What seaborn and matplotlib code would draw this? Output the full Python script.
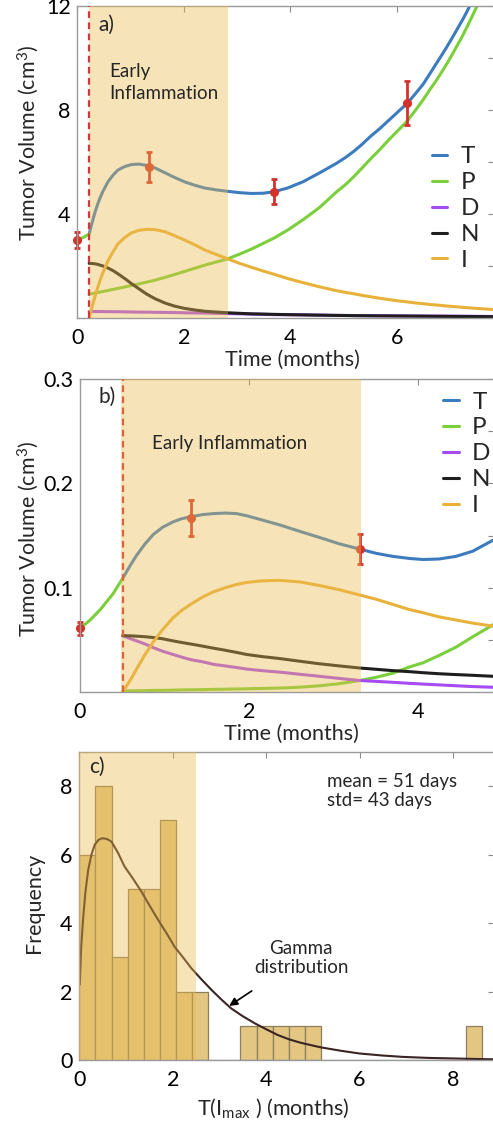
import matplotlib
matplotlib.use("Agg")
import matplotlib.pyplot as plt
from matplotlib.patches import Rectangle
import seaborn as sns

# ---------------- data ----------------
# Panel a: large tumour (cm^3), time in months
a_t_pre = [0.0, 0.11, 0.22]
a_p_pre = [3.0, 3.1, 3.23]
a_t = [0.22, 0.26, 0.3, 0.34, 0.385, 0.43, 0.48, 0.573, 0.67, 0.76, 0.88, 1.01, 1.15,
       1.3, 1.45, 1.64, 1.82, 2.01, 2.2, 2.39, 2.6, 2.83, 3.05, 3.27, 3.5, 3.7,
       3.95, 4.24, 4.55, 4.87, 5.05, 5.2, 5.35, 5.5, 5.68, 5.85, 6.02, 6.2, 6.35,
       6.5, 6.62, 6.75, 6.85, 6.95, 7.04, 7.13, 7.22, 7.3, 7.4, 7.5, 7.65, 7.8]
a_T = [3.23, 3.56, 3.86, 4.14, 4.41, 4.65, 4.88, 5.24, 5.5, 5.69, 5.82, 5.9, 5.92,
       5.87, 5.78, 5.59, 5.41, 5.24, 5.11, 5.0, 4.93, 4.87, 4.82, 4.79, 4.8, 4.86,
       5.0, 5.24, 5.58, 5.95, 6.19, 6.42, 6.68, 6.97, 7.28, 7.6, 7.92, 8.26, 8.62,
       9.0, 9.38, 9.8, 10.12, 10.45, 10.76, 11.08, 11.4, 11.7, 12.1, 12.5, 13.05, 13.6]
a_P = [0.92, 0.935, 0.95, 0.965, 0.98, 1.0, 1.02, 1.06, 1.10, 1.14, 1.19, 1.25, 1.31,
       1.38, 1.45, 1.56, 1.67, 1.79, 1.91, 2.03, 2.15, 2.28, 2.46, 2.65, 2.88, 3.08,
       3.38, 3.78, 4.25, 4.85, 5.15, 5.45, 5.77, 6.1, 6.47, 6.85, 7.2, 7.58, 7.98,
       8.4, 8.77, 9.15, 9.47, 9.8, 10.12, 10.45, 10.78, 11.1, 11.52, 11.95, 12.6, 13.3]
a_D = [0.25, 0.25, 0.25, 0.249, 0.248, 0.247, 0.246, 0.244, 0.242, 0.24, 0.236, 0.232, 0.228,
       0.224, 0.22, 0.215, 0.21, 0.2, 0.195, 0.19, 0.18, 0.17, 0.16, 0.15, 0.14, 0.13,
       0.125, 0.12, 0.11, 0.1, 0.098, 0.095, 0.092, 0.09, 0.087, 0.085, 0.082, 0.08, 0.078,
       0.077, 0.075, 0.074, 0.073, 0.072, 0.071, 0.07, 0.069, 0.068, 0.067, 0.065, 0.062, 0.06]
a_N = [2.1, 2.1, 2.09, 2.08, 2.06, 2.03, 2.0, 1.92, 1.82, 1.7, 1.53, 1.33, 1.13,
       0.92, 0.75, 0.58, 0.46, 0.37, 0.31, 0.26, 0.23, 0.2, 0.18, 0.16, 0.15, 0.14,
       0.13, 0.12, 0.11, 0.1, 0.095, 0.09, 0.088, 0.085, 0.082, 0.08, 0.077, 0.075, 0.072,
       0.07, 0.068, 0.065, 0.064, 0.062, 0.061, 0.06, 0.059, 0.058, 0.057, 0.055, 0.052, 0.05]
a_I = [0.0, 0.32, 0.62, 0.92, 1.2, 1.48, 1.75, 2.2, 2.55, 2.85, 3.08, 3.27, 3.37,
       3.41, 3.4, 3.32, 3.17, 3.0, 2.82, 2.62, 2.45, 2.27, 2.1, 1.95, 1.8, 1.68,
       1.52, 1.36, 1.2, 1.05, 0.98, 0.93, 0.87, 0.82, 0.76, 0.71, 0.66, 0.62, 0.58,
       0.55, 0.52, 0.5, 0.48, 0.46, 0.445, 0.43, 0.415, 0.4, 0.385, 0.37, 0.35, 0.33]
a_obs_t = [0.0, 1.35, 3.69, 6.19]
a_obs_v = [3.0, 5.82, 4.86, 8.26]
a_obs_e = [0.3, 0.58, 0.49, 0.85]
a_treat = 0.22
a_window = (0.225, 2.83)

# Panel b: small tumour (cm^3)
b_t_pre = [0.0, 0.12, 0.24, 0.39, 0.505]
b_p_pre = [0.061, 0.069, 0.079, 0.094, 0.109]
b_t = [0.505, 0.6, 0.67, 0.77, 0.868, 0.98, 1.1, 1.2, 1.31, 1.45, 1.58, 1.72,
       1.85, 1.97, 2.15, 2.37, 2.6, 2.84, 3.07, 3.31, 3.5, 3.7, 3.9, 4.06, 4.25,
       4.45, 4.65, 4.9]
b_T = [0.109, 0.122, 0.131, 0.142, 0.151, 0.158, 0.163, 0.166, 0.168, 0.170, 0.171, 0.1715,
       0.171, 0.169, 0.165, 0.160, 0.154, 0.148, 0.142, 0.137, 0.133, 0.130, 0.128, 0.127,
       0.1275, 0.130, 0.135, 0.146]
b_P = [0.001, 0.0011, 0.0012, 0.0013, 0.0015, 0.0016, 0.0018, 0.002, 0.0021, 0.0023, 0.0025, 0.0027,
       0.0029, 0.0031, 0.0034, 0.0038, 0.0046, 0.006, 0.008, 0.011, 0.014, 0.018, 0.024, 0.028,
       0.035, 0.043, 0.053, 0.065]
b_D = [0.054, 0.051, 0.049, 0.046, 0.0425, 0.039, 0.036, 0.0335, 0.031, 0.029, 0.0265, 0.025,
       0.0235, 0.022, 0.0205, 0.019, 0.017, 0.015, 0.013, 0.011, 0.0102, 0.0093, 0.0083, 0.0076,
       0.0068, 0.006, 0.0052, 0.0045]
b_N = [0.054, 0.0538, 0.0535, 0.053, 0.0522, 0.051, 0.049, 0.0475, 0.046, 0.044, 0.042, 0.04,
       0.038, 0.036, 0.034, 0.032, 0.0295, 0.027, 0.025, 0.023, 0.0218, 0.0205, 0.0195, 0.0185,
       0.0175, 0.0167, 0.016, 0.015]
b_I = [0.0, 0.012, 0.022, 0.036, 0.048, 0.06, 0.071, 0.078, 0.084, 0.091, 0.096, 0.1,
       0.103, 0.105, 0.1065, 0.107, 0.1055, 0.102, 0.098, 0.093, 0.089, 0.084, 0.079, 0.076,
       0.072, 0.069, 0.066, 0.063]
b_obs_t = [0.0, 1.31, 3.31]
b_obs_v = [0.061, 0.167, 0.137]
b_obs_e = [0.0065, 0.017, 0.0145]
b_treat = 0.505
b_window = (0.49, 3.32)

# Panel c: time of inflammation peak histogram
c_bin_width = 0.345
c_counts = [6, 8, 3, 5, 5, 7, 2, 2, 0, 0, 1, 1, 1, 1, 1,
            0, 0, 0, 0, 0, 0, 0, 0, 0, 1]
c_gamma_x = [0.01, 0.04, 0.08, 0.13, 0.19, 0.26, 0.33, 0.41, 0.49, 0.59, 0.69, 0.83,
             0.97, 1.15, 1.33, 1.51, 1.69, 1.87, 2.04, 2.22, 2.4, 2.62, 2.83, 3.04,
             3.25, 3.5, 3.76, 4.0, 4.25, 4.5, 4.75, 5.17, 5.6, 6.0, 6.5, 6.94, 7.5,
             8.0, 8.5, 8.9]
c_gamma_y = [2.2, 3.3, 4.1, 4.9, 5.55, 6.0, 6.29, 6.43, 6.48, 6.46, 6.38, 6.05,
             5.65, 5.3, 4.92, 4.5, 4.09, 3.7, 3.31, 3.0, 2.68, 2.35, 2.05, 1.77,
             1.51, 1.28, 1.07, 0.9, 0.73, 0.6, 0.5, 0.37, 0.27, 0.19, 0.13, 0.09, 0.06,
             0.045, 0.03, 0.02]
c_window = (0.0, 2.5)

series_names = ["T", "P", "D", "N", "I"]
a_xticks = [0, 2, 4, 6]
a_yticks = [0, 2, 4, 6, 8, 10, 12]
a_yticklabels = ["", "", "4", "", "8", "", "12"]
b_xticks = [0, 2, 4]
b_yticks = [0, 0.05, 0.1, 0.15, 0.2, 0.25, 0.3]
b_yticklabels = ["", "", "0.1", "", "0.2", "", "0.3"]
c_xticks = [0, 2, 4, 6, 8]
c_yticks = [0, 2, 4, 6, 8]

# ---------------- style ----------------
sns.set_theme(style="white")
plt.rcParams["font.family"] = ["Lato", "DejaVu Sans"]
plt.rcParams["mathtext.fontset"] = "custom"
plt.rcParams["mathtext.rm"] = "Lato"
plt.rcParams["mathtext.it"] = "Lato:italic"
plt.rcParams["mathtext.default"] = "rm"

colors = {"T": "#3B7BBE", "P": "#7BCF3A", "D": "#A64BF4", "N": "#1E1E1E", "I": "#E8B13A"}
red = "#D3322B"
shade = "#EDBB4E"
shade_alpha = 0.4
LW = 2.2
TICK_FS = 15.5
LABEL_FS = 15.5
LEGEND_FS = 17.5

fig = plt.figure(figsize=(4.93, 11.24), dpi=100)
ax_a = fig.add_axes([0.1572, 0.71708, 0.8448, 0.27758])
ax_b = fig.add_axes([0.16227, 0.38434, 0.83976, 0.27847])
ax_c = fig.add_axes([0.16085, 0.05694, 0.84118, 0.27402])


def style_axes(ax):
    for sp in ax.spines.values():
        sp.set_color("#9a9a9a")
        sp.set_linewidth(1.0)
    ax.tick_params(direction="in", length=4.5, width=0.8, color="#8a8a8a",
                   top=True, right=True, labelsize=TICK_FS, labelcolor="black")
    ax.tick_params(axis="x", pad=7)
    ax.tick_params(axis="y", pad=5)


def model_panel(ax, t_pre, p_pre, t, curves, obs, window, xlim, ylim):
    handles = []
    for name in series_names:
        sns.lineplot(x=t, y=curves[name], ax=ax, color=colors[name], lw=LW,
                     sort=False, estimator=None, zorder=2)
        handles.append(ax.lines[-1])
    sns.lineplot(x=t_pre, y=p_pre, ax=ax, color=colors["P"], lw=LW,
                 sort=False, estimator=None, zorder=2.2)
    ot, ov, oe = obs
    ax.errorbar(ot, ov, yerr=oe, fmt="o", color=red, ms=5.5, capsize=2.5,
                elinewidth=2, capthick=2, zorder=2.1, clip_on=False)
    ax.add_patch(Rectangle((window[0], ylim[0]), window[1] - window[0], ylim[1] - ylim[0],
                           facecolor=shade, alpha=shade_alpha, edgecolor="none", zorder=3))
    ax.set_xlim(*xlim)
    ax.set_ylim(*ylim)
    return handles


def add_legend(ax, handles, anchor):
    ax.legend(handles, series_names, loc="upper left", bbox_to_anchor=anchor,
              frameon=False, fontsize=LEGEND_FS, handlelength=0.65, handletextpad=0.55,
              labelspacing=0.2, borderpad=0, borderaxespad=0)


# ---------------- panel a ----------------
style_axes(ax_a)
h = model_panel(ax_a, a_t_pre, a_p_pre, a_t,
                {"T": a_T, "P": a_P, "D": a_D, "N": a_N, "I": a_I},
                (a_obs_t, a_obs_v, a_obs_e), a_window, (0, 7.83), (0, 12))
ax_a.axvline(a_treat, color="#D8353A", lw=1.6, ls=(0, (3, 2)), zorder=5)
ax_a.set_xticks(a_xticks)
ax_a.set_xticklabels([str(v) for v in a_xticks])
ax_a.set_yticks(a_yticks)
ax_a.set_yticklabels(a_yticklabels)
ax_a.set_xlabel("Time (months)", fontsize=LABEL_FS, va="center")
ax_a.xaxis.set_label_coords(0.515, -0.135)
ax_a.set_ylabel("Tumor Volume (cm$^3$)", fontsize=LABEL_FS, va="center")
ax_a.yaxis.set_label_coords(-0.119, 0.56)
ax_a.text(0.55, 11.27, "a)", fontsize=15, va="center", ha="center", zorder=6)
ax_a.text(0.59, 9.06, "Early\nInflammation", fontsize=13.5, va="center", ha="left",
          linespacing=1.3, zorder=6)
add_legend(ax_a, h, (0.85, 0.55))

# ---------------- panel b ----------------
style_axes(ax_b)
h = model_panel(ax_b, b_t_pre, b_p_pre, b_t,
                {"T": b_T, "P": b_P, "D": b_D, "N": b_N, "I": b_I},
                (b_obs_t, b_obs_v, b_obs_e), b_window, (0, 4.9), (0, 0.3))
ax_b.axvline(b_treat, color="#E0623A", lw=1.6, ls=(0, (3, 2)), zorder=5)
ax_b.set_xticks(b_xticks)
ax_b.set_xticklabels([str(v) for v in b_xticks])
ax_b.set_yticks(b_yticks)
ax_b.set_yticklabels(b_yticklabels)
ax_b.set_xlabel("Time (months)", fontsize=LABEL_FS, va="center")
ax_b.xaxis.set_label_coords(0.51, -0.134)
ax_b.set_ylabel("Tumor Volume (cm$^3$)", fontsize=LABEL_FS, va="center")
ax_b.yaxis.set_label_coords(-0.125, 0.49)
ax_b.text(0.316, 0.2826, "b)", fontsize=15, va="center", ha="center", zorder=6)
ax_b.text(0.856, 0.238, "Early Inflammation", fontsize=13.5, va="center", ha="left", zorder=6)
add_legend(ax_b, h, (0.877, 0.96))

# ---------------- panel c ----------------
style_axes(ax_c)
edges = [i * c_bin_width for i in range(len(c_counts) + 1)]
centers = [(edges[i] + edges[i + 1]) / 2 for i in range(len(c_counts))]
sns.histplot(x=centers, weights=c_counts, bins=edges, ax=ax_c, color="#E2C682",
             edgecolor="#8E7E5E", linewidth=0.9, alpha=1.0, zorder=1)
sns.lineplot(x=c_gamma_x, y=c_gamma_y, ax=ax_c, color="#3A2424", lw=1.5,
             sort=False, estimator=None, zorder=2)
ax_c.add_patch(Rectangle((c_window[0], 0), c_window[1] - c_window[0], 9,
                         facecolor=shade, alpha=shade_alpha, edgecolor="none", zorder=3))
ax_c.set_xlim(0, 8.88)
ax_c.set_ylim(0, 9)
ax_c.set_xticks(c_xticks)
ax_c.set_xticklabels([str(v) for v in c_xticks])
ax_c.set_yticks(c_yticks)
ax_c.set_yticklabels([str(v) for v in c_yticks])
ax_c.set_xlabel("T(I$_{max}$ ) (months)", fontsize=LABEL_FS, va="center")
ax_c.xaxis.set_label_coords(0.468, -0.156)
ax_c.set_ylabel("Frequency", fontsize=LABEL_FS, va="center")
ax_c.yaxis.set_label_coords(-0.11, 0.51)
ax_c.text(0.37, 8.58, "c)", fontsize=15, va="center", ha="center", zorder=6)
ax_c.text(5.3, 7.86, "mean = 51 days\nstd= 43 days", fontsize=13.5, va="center",
          ha="left", linespacing=1.15, zorder=6)
ax_c.annotate("Gamma\ndistribution", xy=(3.21, 1.58), xytext=(4.75, 2.98),
              fontsize=13.5, ha="center", va="center", linespacing=1.15, zorder=6,
              arrowprops=dict(arrowstyle="-|>", color="black", lw=1.2,
                              mutation_scale=12, shrinkA=15, shrinkB=0))

fig.savefig("out.png", dpi=100)
